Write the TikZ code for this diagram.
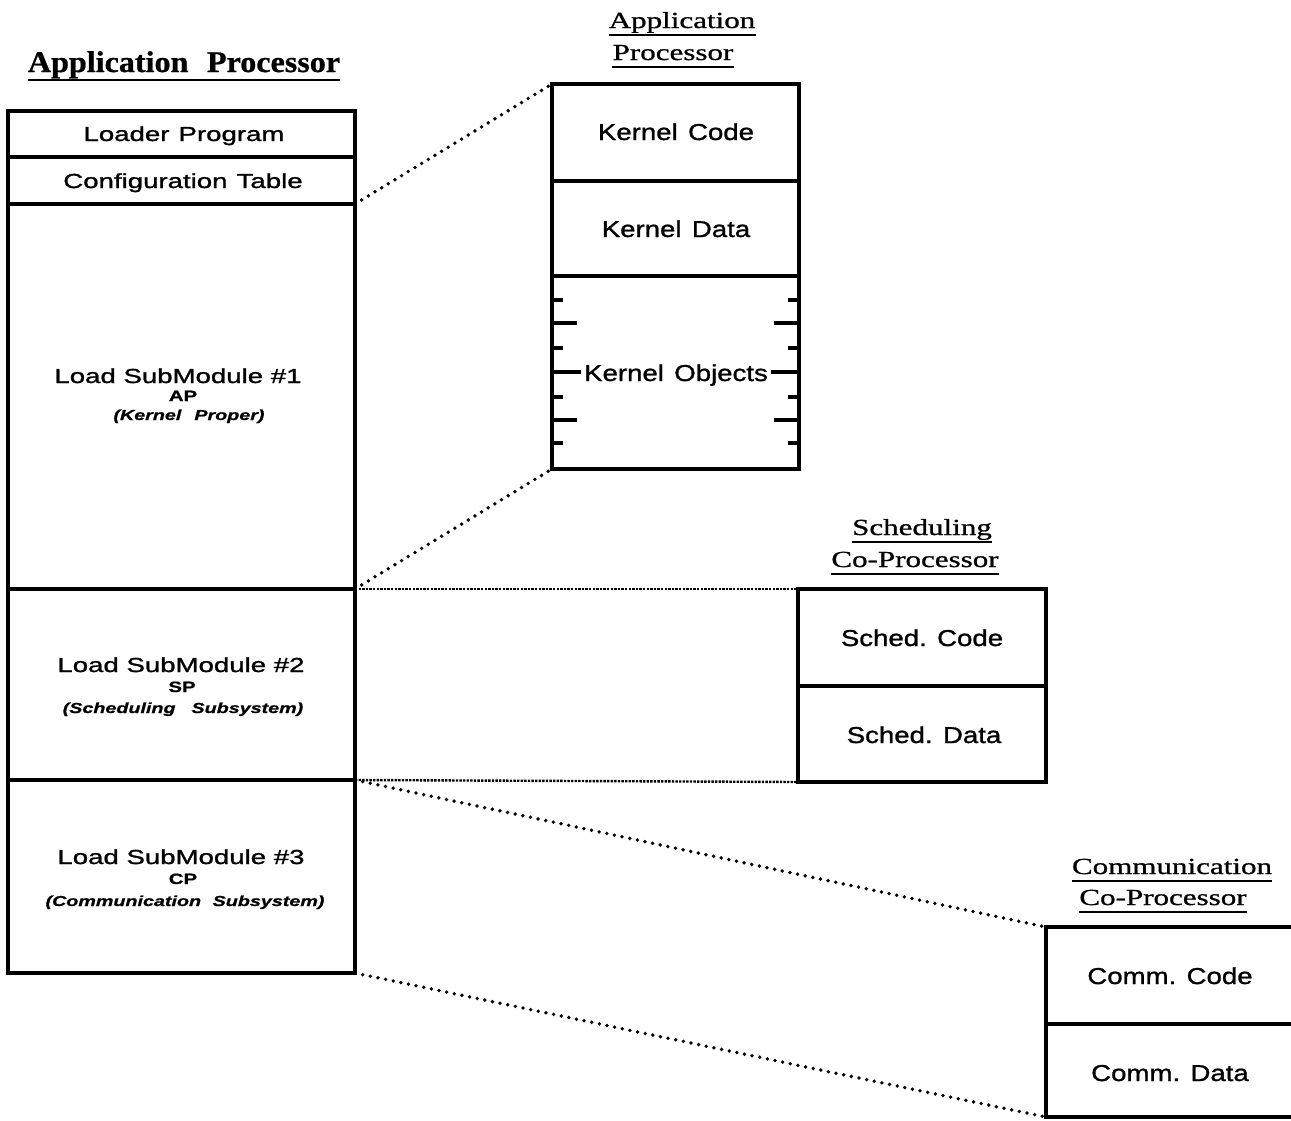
\documentclass[tikz,border=0pt]{standalone}
\usepackage{fontspec}
\setmainfont{Liberation Serif}
\newfontfamily\lsans[FakeStretch=1.36, FakeBold=1.2]{Liberation Sans}
\newfontfamily\lsansb[FakeStretch=1.36, FakeBold=0.8]{Liberation Sans Bold}
\newfontfamily\lsansbi[FakeStretch=1.36, FakeBold=0.8]{Liberation Sans Bold Italic}
\newfontfamily\rsans[FakeStretch=1.2, FakeBold=1.2]{Liberation Sans}
\newfontfamily\rser[FakeStretch=1.35, FakeBold=0.9]{Liberation Serif}
\newfontfamily\lser[FakeStretch=1.07, FakeBold=0.8]{Liberation Serif Bold}
\newcommand\wgap{\hspace{0.45em}}
\begin{document}
\begin{tikzpicture}[x=1pt,y=-1pt,
  cell/.style={draw, line width=3.6pt, outer sep=0pt, inner sep=0pt, anchor=north west},
  lbl/.style={inner sep=0pt, anchor=base},
  mainL/.style={lbl, font=\lsans\fontsize{20.3}{21}\selectfont},
  subL/.style={lbl, font=\lsansb\fontsize{15}{16}\selectfont},
  noteL/.style={lbl, font=\lsansbi\fontsize{14.5}{15}\selectfont},
  mainR/.style={lbl, font=\rsans\fontsize{23}{24}\selectfont},
  ttl/.style={lbl, font=\rser\fontsize{23}{24}\selectfont},
  uline/.style={line width=2.2pt},
  zoomline/.style={line width=3.8pt, line cap=round, dash pattern=on 0pt off 7.8pt},
  edgeline/.style={line width=2.4pt, dash pattern=on 2.4pt off 1.2pt},
  tick/.style={line width=3.2pt}]
\useasboundingbox (0,0) rectangle (1291,1120);
\clip (0,0) rectangle (1291,1120);

% ---- memory image loaded on the application processor ----
\node[cell, minimum width=347pt, minimum height=46pt]  (ldr) at (8,111) {};
\node[cell, minimum width=347pt, minimum height=47pt]  (cfg) at (8,157) {};
\node[cell, minimum width=347pt, minimum height=385pt] (sm1) at (8,204) {};
\node[cell, minimum width=347pt, minimum height=191pt] (sm2) at (8,589) {};
\node[cell, minimum width=347pt, minimum height=193pt] (sm3) at (8,780) {};

\node[lbl, font=\lser\fontsize{30}{32}\selectfont] (tA) at (184,72) {Application\hspace{0.35em} Processor};
\draw[line width=2.8pt] ([yshift=-8pt]tA.base west) -- ([yshift=-8pt]tA.base east);

\node[mainL] (tldr) at (184,141) {Loader\wgap Program};
\node[mainL] (tcfg) at (183,188) {Configuration\wgap Table};

\node[mainL] (t1a) at (178,383) {Load SubModule \#1};
\node[subL]  (t1b) at (183,401) {AP};
\node[noteL] (t1c) at (189,420) {(Kernel\hspace{0.9em}Proper)};

\node[mainL] (t2a) at (181,672) {Load SubModule \#2};
\node[subL]  (t2b) at (182,692) {SP};
\node[noteL] (t2c) at (183,713) {(Scheduling\hspace{1.1em}Subsystem)};

\node[mainL] (t3a) at (181,864) {Load SubModule \#3};
\node[subL]  (t3b) at (183,884) {CP};
\node[noteL] (t3c) at (185,906) {(Communication\hspace{0.8em}Subsystem)};

% ---- application processor ----
\node[cell, minimum width=247pt, minimum height=97pt]  (kc) at (552,84) {};
\node[cell, minimum width=247pt, minimum height=95pt]  (kd) at (552,181) {};
\node[cell, minimum width=247pt, minimum height=193pt] (ko) at (552,276) {};

\node[ttl] (tB1) at (682,28) {Application};
\node[ttl] (tB2) at (673,60) {Processor};
\draw[uline] ([yshift=-7pt]tB1.base west) -- ([yshift=-7pt]tB1.base east);
\draw[uline] ([yshift=-7pt]tB2.base west) -- ([yshift=-7pt]tB2.base east);

\node[mainR] (tkc) at (676,140) {Kernel\wgap Code};
\node[mainR] (tkd) at (676,237) {Kernel\wgap Data};
\node[mainR, inner xsep=3pt] (tko) at (676,381) {Kernel\wgap Objects};

% object slots along both sides
\foreach \yy/\len in {300/11, 323/25, 348/11, 397/11, 420/25, 443/11} {
  \draw[tick] (ko.west |- 0,\yy) -- ++(\len,0);
  \draw[tick] (ko.east |- 0,\yy) -- ++(-\len,0);
}
\draw[tick] (ko.west |- 0,372) -- (tko.west |- 0,372);
\draw[tick] (ko.east |- 0,372) -- (tko.east |- 0,372);

% ---- scheduling co-processor ----
\node[cell, minimum width=248pt, minimum height=97pt] (sc) at (798,589) {};
\node[cell, minimum width=248pt, minimum height=96pt] (sd) at (798,686) {};

\node[ttl] (tC1) at (922,535) {Scheduling};
\node[ttl] (tC2) at (915,567) {Co-Processor};
\draw[uline] ([yshift=-7pt]tC1.base west) -- ([yshift=-7pt]tC1.base east);
\draw[uline] ([yshift=-7pt]tC2.base west) -- ([yshift=-7pt]tC2.base east);

\node[mainR] (tsc) at (922,646) {Sched.\wgap Code};
\node[mainR] (tsd) at (924,743) {Sched.\wgap Data};

% ---- communication co-processor ----
\node[cell, minimum width=260pt, minimum height=97pt] (cc) at (1046,927) {};
\node[cell, minimum width=260pt, minimum height=93pt] (cd) at (1046,1024) {};

\node[ttl] (tD1) at (1172,874) {Communication};
\node[ttl] (tD2) at (1163,905) {Co-Processor};
\draw[uline] ([yshift=-7pt]tD1.base west) -- ([yshift=-7pt]tD1.base east);
\draw[uline] ([yshift=-7pt]tD2.base west) -- ([yshift=-7pt]tD2.base east);

\node[mainR] (tcc) at (1170,984) {Comm.\wgap Code};
\node[mainR] (tcd) at (1170,1081) {Comm.\wgap Data};

% ---- expansion lines ----
\draw[zoomline] (cfg.south east) -- (kc.north west);
\draw[zoomline] (sm1.south east) -- (ko.south west);
\draw[edgeline] (sm2.north east) -- (sc.north west);
\draw[edgeline] (sm2.south east) -- (sd.south west);
\draw[zoomline] (sm3.north east) -- (cc.north west);
\draw[zoomline] (sm3.south east) -- (cd.south west);
\end{tikzpicture}
\end{document}
